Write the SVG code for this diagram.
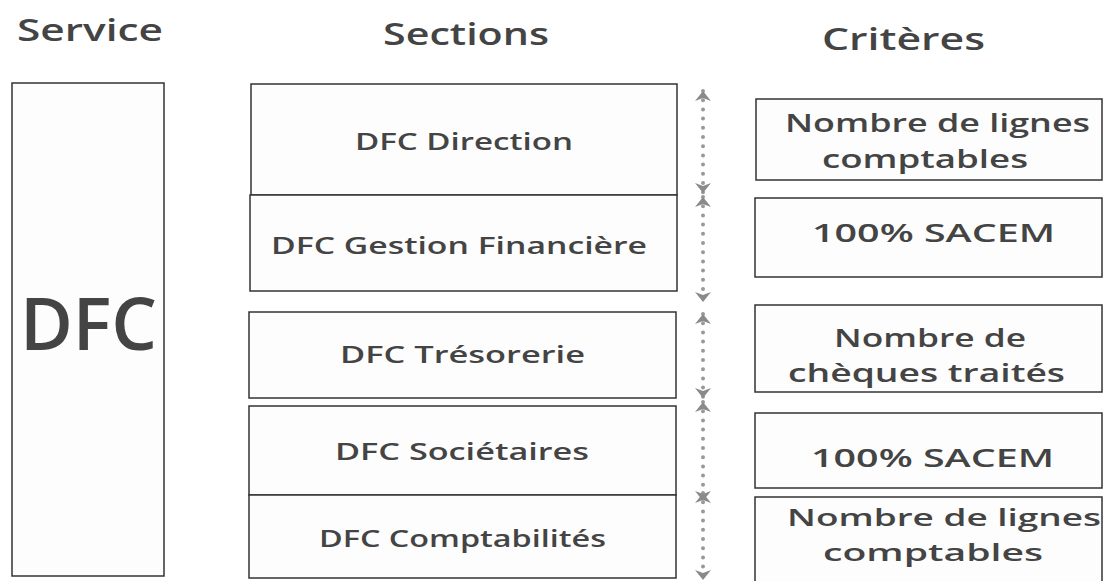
<svg xmlns="http://www.w3.org/2000/svg" width="1104" height="581" viewBox="0 0 1104 581">
  <style>
    .box { fill: #fdfdfd; stroke: #333; stroke-width: 1.5; }
    .t { font-family: "Open Sans", "DejaVu Sans", sans-serif; font-weight: 600; fill: #444; }
    .head { font-size: 30px; }
    .sec { font-size: 23px; }
    .crit { font-size: 26px; }
    .crit-s { font-size: 24px; }
    .big { font-size: 72px; }
    .dots { stroke: #999; stroke-width: 4; stroke-linecap: round; stroke-dasharray: 0 9.2; fill: none; }
  </style>
  <defs>
    <marker id="head" viewBox="0 0 10 16" refX="10" refY="8" markerWidth="10" markerHeight="16" markerUnits="userSpaceOnUse" orient="auto-start-reverse">
      <path d="M0,0 L10,8 L0,16 L3,8 Z" fill="#8a8a8a"/>
    </marker>
  </defs>

  <!-- column titles -->
  <g id="titles">
    <text class="t head" x="17" y="41" textLength="146" lengthAdjust="spacingAndGlyphs">Service</text>
    <text class="t head" x="383" y="45" textLength="166" lengthAdjust="spacingAndGlyphs">Sections</text>
    <text class="t head" x="822" y="50" textLength="163" lengthAdjust="spacingAndGlyphs">Critères</text>
  </g>

  <!-- service -->
  <g id="service">
    <rect class="box" x="12" y="83" width="152" height="493"/>
    <text class="t big" x="20" y="350" textLength="137" lengthAdjust="spacingAndGlyphs">DFC</text>
  </g>

  <!-- sections -->
  <g id="sec-direction">
    <rect class="box" x="251" y="84" width="426" height="111"/>
    <text class="t sec" x="355" y="150" textLength="218" lengthAdjust="spacingAndGlyphs">DFC Direction</text>
  </g>
  <g id="sec-gestion">
    <rect class="box" x="250" y="195" width="427" height="96"/>
    <text class="t sec" x="271" y="254" textLength="376" lengthAdjust="spacingAndGlyphs">DFC Gestion Financière</text>
  </g>
  <g id="sec-tresorerie">
    <rect class="box" x="249" y="312" width="427" height="86"/>
    <text class="t sec" x="340" y="363" textLength="245" lengthAdjust="spacingAndGlyphs">DFC Trésorerie</text>
  </g>
  <g id="sec-societaires">
    <rect class="box" x="249" y="406" width="427" height="89"/>
    <text class="t sec" x="335" y="460" textLength="254" lengthAdjust="spacingAndGlyphs">DFC Sociétaires</text>
  </g>
  <g id="sec-comptabilites">
    <rect class="box" x="249" y="495" width="427" height="83"/>
    <text class="t sec" x="319" y="547" textLength="287" lengthAdjust="spacingAndGlyphs">DFC Comptabilités</text>
  </g>

  <!-- dotted two-way connectors between sections and criteria -->
  <g id="connectors">
    <line class="dots" x1="703" y1="91" x2="703" y2="193" marker-start="url(#head)" marker-end="url(#head)"/>
    <line class="dots" x1="703" y1="197" x2="703" y2="302" marker-start="url(#head)" marker-end="url(#head)"/>
    <line class="dots" x1="703" y1="314" x2="703" y2="398" marker-start="url(#head)" marker-end="url(#head)"/>
    <line class="dots" x1="703" y1="402" x2="703" y2="501" marker-start="url(#head)" marker-end="url(#head)"/>
    <line class="dots" x1="703" y1="493" x2="703" y2="580" marker-start="url(#head)" marker-end="url(#head)"/>
  </g>

  <!-- criteria -->
  <g id="crit-1">
    <rect class="box" x="756" y="99" width="346" height="81"/>
    <text class="t crit" x="785" y="132" textLength="305" lengthAdjust="spacingAndGlyphs">Nombre de lignes</text>
    <text class="t crit" x="822" y="168" textLength="206" lengthAdjust="spacingAndGlyphs">comptables</text>
  </g>
  <g id="crit-2">
    <rect class="box" x="755" y="198" width="347" height="79"/>
    <text class="t crit" x="812" y="242" textLength="243" lengthAdjust="spacingAndGlyphs">100% SACEM</text>
  </g>
  <g id="crit-3">
    <rect class="box" x="755" y="305" width="347" height="87"/>
    <text class="t crit" x="834" y="347" textLength="192" lengthAdjust="spacingAndGlyphs">Nombre de</text>
    <text class="t crit" x="788" y="382" textLength="277" lengthAdjust="spacingAndGlyphs">chèques traités</text>
  </g>
  <g id="crit-4">
    <rect class="box" x="755" y="413" width="347" height="75"/>
    <text class="t crit" x="811" y="467" textLength="243" lengthAdjust="spacingAndGlyphs">100% SACEM</text>
  </g>
  <g id="crit-5">
    <rect class="box" x="755" y="497" width="347" height="90"/>
    <text class="t crit-s" x="787" y="526" textLength="314" lengthAdjust="spacingAndGlyphs">Nombre de lignes</text>
    <text class="t crit-s" x="823" y="561" textLength="220" lengthAdjust="spacingAndGlyphs">comptables</text>
  </g>
</svg>
